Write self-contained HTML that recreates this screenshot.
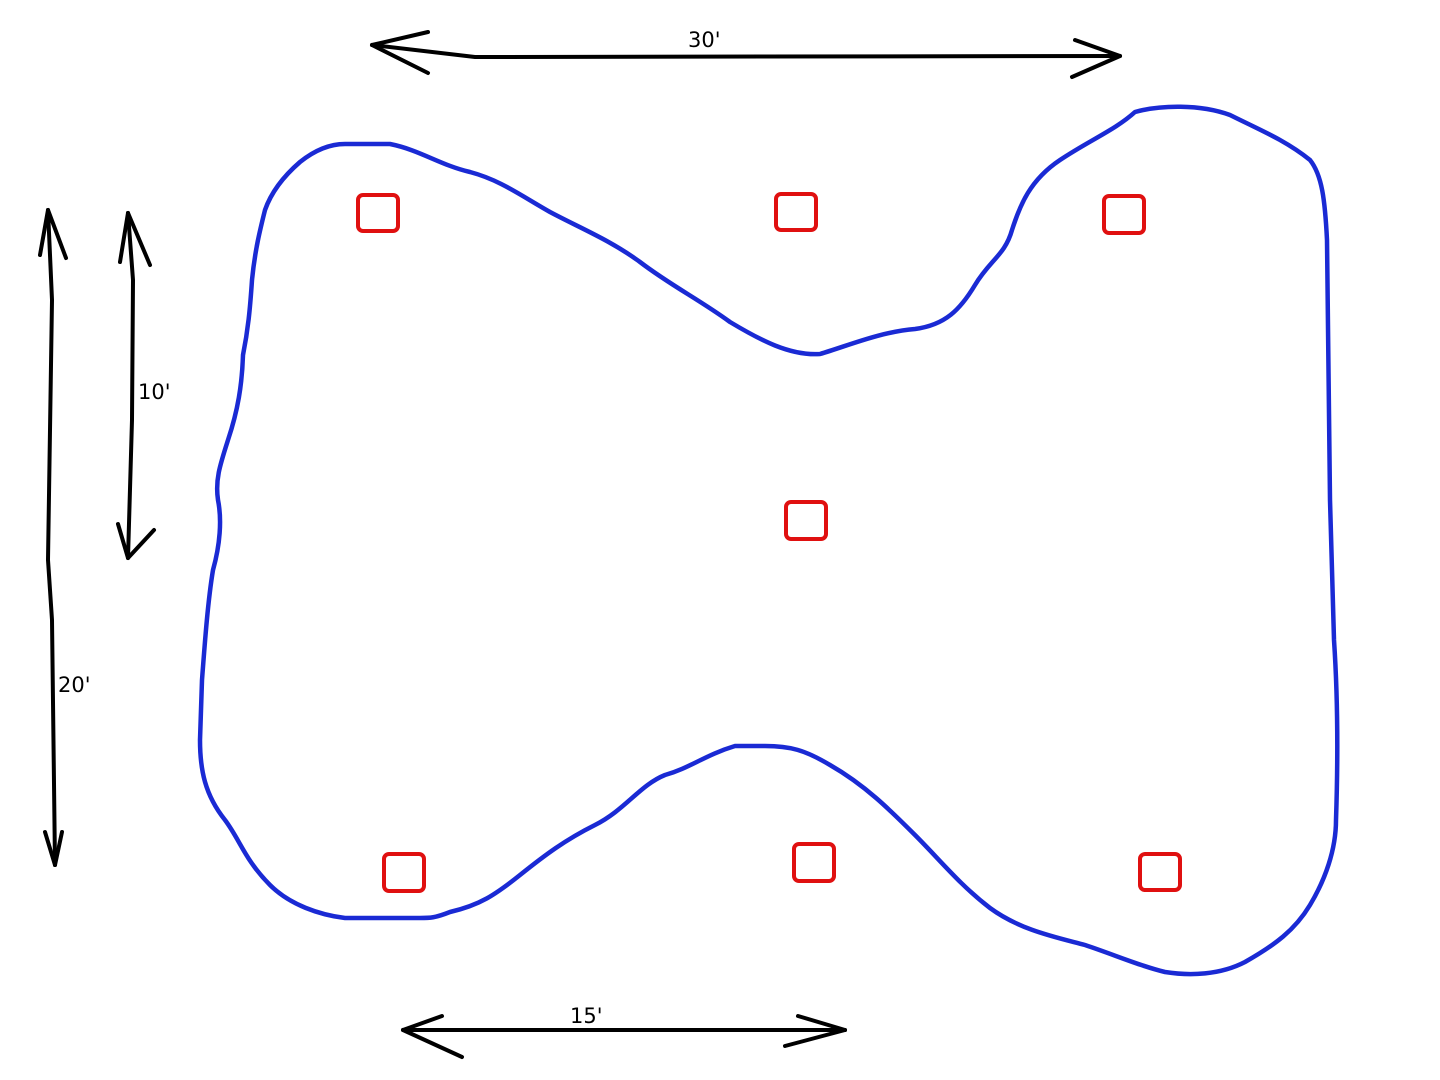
<!DOCTYPE html>
<html><head><meta charset="utf-8"><style>
html,body{margin:0;padding:0;background:#fff;width:1440px;height:1080px;overflow:hidden}
svg{display:block}
text{font-family:"DejaVu Sans","Liberation Sans",sans-serif;font-size:21px;fill:#000}
</style></head><body>
<svg width="1440" height="1080" viewBox="0 0 1440 1080" xmlns="http://www.w3.org/2000/svg">
<path fill="none" stroke="#1a2ad4" stroke-width="4.5" stroke-linejoin="round" d="
M345,144 L390,144 C420,150 440,165 470,172 C500,180 520,195 550,212 C580,228 610,240 640,262 C670,285 700,300 730,322 C760,340 790,356 820,354 C850,345 880,332 915,329 C945,325 960,310 975,285 C990,260 1005,255 1012,230 C1020,205 1030,180 1060,160 C1090,140 1115,130 1135,112 C1160,105 1200,104 1230,115 C1260,130 1285,140 1310,160 C1322,175 1325,200 1327,240 L1330,500 L1334,640 C1338,700 1338,760 1336,820 C1336,850 1325,880 1310,905 C1295,930 1275,945 1245,962 C1220,975 1190,976 1165,972 C1140,966 1115,955 1085,945 C1055,937 1020,930 990,908 C960,885 940,860 915,835 C890,810 865,785 830,765 C805,750 790,746 765,746 L735,746 C705,755 690,768 665,775 C640,785 625,810 595,825 C565,840 545,855 520,875 C495,895 480,905 450,912 C435,918 430,918 420,918 L345,918 C320,915 290,905 270,885 C245,860 240,840 225,820 C205,795 200,770 200,740 L202,680 C205,640 208,600 213,570 C220,545 222,520 218,500 C215,480 220,465 228,440 C238,410 242,385 243,355 C248,330 250,310 252,280 C255,250 260,230 265,210 C272,190 285,175 300,162 C315,150 330,144 345,144 Z"/>
<g fill="none" stroke="#e01010" stroke-width="4" stroke-linejoin="round">
<rect x="358" y="195" width="40" height="36" rx="5"/>
<rect x="776" y="194" width="40" height="36" rx="5"/>
<rect x="1104" y="196" width="40" height="37" rx="5"/>
<rect x="786" y="502" width="40" height="37" rx="5"/>
<rect x="384" y="854" width="40" height="37" rx="5"/>
<rect x="794" y="844" width="40" height="37" rx="5"/>
<rect x="1140" y="854" width="40" height="36" rx="5"/>
</g>
<g fill="none" stroke="#000" stroke-width="4" stroke-linecap="round" stroke-linejoin="round">
<path d="M372,45 L475,57 L1120,56"/>
<path d="M372,45 L428,32 M372,45 L428,73"/>
<path d="M1120,56 L1075,40 M1120,56 L1072,77"/>
<path d="M403,1030 L1845,1030" transform="scale(1)" stroke="none"/>
<path d="M403,1030 L845,1030"/>
<path d="M403,1030 L442,1016 M403,1030 L462,1057"/>
<path d="M845,1030 L798,1016 M845,1030 L785,1046"/>
<path d="M48,210 L52,300 L48,560 L52,620 L55,865"/>
<path d="M48,210 L40,255 M48,210 L66,258"/>
<path d="M55,865 L45,832 M55,865 L62,832"/>
<path d="M128,213 L133,280 L132,420 L128,558"/>
<path d="M128,213 L120,262 M128,213 L150,265"/>
<path d="M128,558 L118,524 M128,558 L154,530"/>
</g>
<text x="688" y="47">30'</text>
<text x="138" y="399">10'</text>
<text x="58" y="692">20'</text>
<text x="570" y="1023">15'</text>
</svg>
</body></html>
